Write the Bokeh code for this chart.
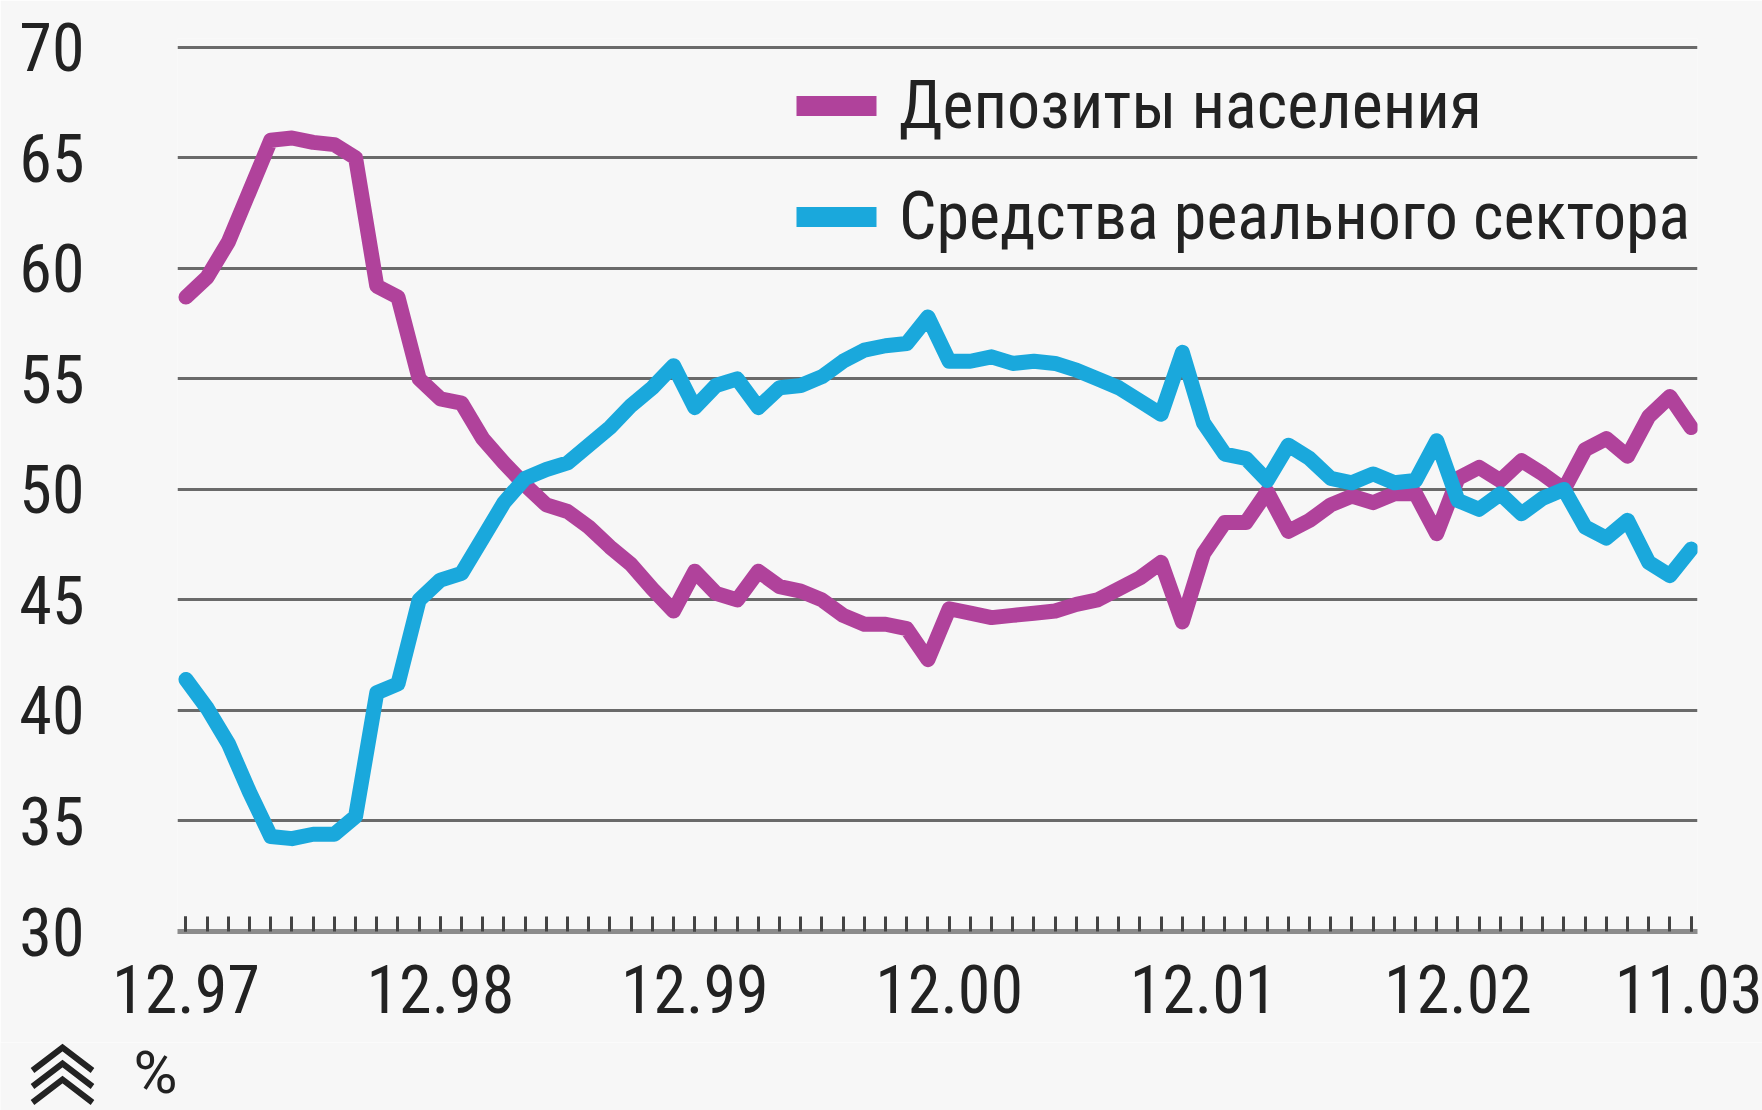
from bokeh.plotting import figure
from bokeh.layouts import column
from bokeh.models import Range1d, FixedTicker, Legend, LegendItem
from bokeh.core.properties import value
from bokeh.embed import file_html
from bokeh.resources import INLINE

# ---- data (monthly, 12.1997 .. 11.2003), % share ----
months = list(range(72))
deposits = [58.7, 59.6, 61.2, 63.5, 65.8, 65.9, 65.7, 65.6, 65.0, 59.2, 58.7, 55.0,
            54.1, 53.9, 52.3, 51.2, 50.2, 49.3, 49.0, 48.3, 47.4, 46.6, 45.5, 44.5,
            46.3, 45.3, 45.0, 46.3, 45.6, 45.4, 45.0, 44.3, 43.9, 43.9, 43.7, 42.3,
            44.6, 44.4, 44.2, 44.3, 44.4, 44.5, 44.8, 45.0, 45.5, 46.0, 46.7, 44.0,
            47.1, 48.5, 48.5, 49.9, 48.1, 48.6, 49.3, 49.7, 49.4, 49.8, 49.8, 48.0,
            50.5, 51.0, 50.4, 51.3, 50.7, 50.0, 51.8, 52.3, 51.5, 53.3, 54.2, 52.8]
real_sector = [41.4, 40.1, 38.5, 36.3, 34.3, 34.2, 34.4, 34.4, 35.2, 40.8, 41.2, 45.0,
               45.9, 46.2, 47.8, 49.4, 50.5, 50.9, 51.2, 52.0, 52.8, 53.8, 54.6, 55.6,
               53.7, 54.7, 55.0, 53.7, 54.6, 54.7, 55.1, 55.8, 56.3, 56.5, 56.6, 57.8,
               55.8, 55.8, 56.0, 55.7, 55.8, 55.7, 55.4, 55.0, 54.6, 54.0, 53.4, 56.2,
               53.0, 51.6, 51.4, 50.4, 52.0, 51.4, 50.5, 50.3, 50.7, 50.3, 50.4, 52.2,
               49.5, 49.1, 49.8, 48.9, 49.6, 50.0, 48.3, 47.8, 48.6, 46.7, 46.1, 47.3]
series_names = ["Депозиты населения", "Средства реального сектора"]
tick_positions = [0, 12, 24, 36, 48, 60, 71]
tick_labels = ["12.97", "12.98", "12.99", "12.00", "12.01", "12.02", "11.03"]
y_ticks = [30, 35, 40, 45, 50, 55, 60, 65, 70]
unit_label = "%"

# ---- style ----
BG = "#f7f7f7"
TXT = "#222222"
MAG = "#b0429b"
CYA = "#1aa8dc"
FONT = "'Liberation Sans Narrow', 'Arial Narrow', 'Roboto Condensed', 'DejaVu Sans Condensed', sans-serif"
W = 1762
MAIN_H = 1042
FOOT_H = 68

p = figure(width=W, height=MAIN_H,
           x_range=Range1d(-0.4, 71.3), y_range=Range1d(30, 70.4),
           output_backend="svg", toolbar_location=None,
           background_fill_color=BG, border_fill_color=BG,
           min_border_left=177, min_border_right=65,
           min_border_top=38, min_border_bottom=MAIN_H - 931)
p.outline_line_color = None

# x axis
xa = p.xaxis[0]
xa.ticker = FixedTicker(ticks=tick_positions, minor_ticks=months)
xa.major_label_overrides = {t: l for t, l in zip(tick_positions, tick_labels)}
xa.axis_line_width = 5
xa.axis_line_color = "#8c8c8c"
xa.major_tick_in = 15
xa.major_tick_out = 0
xa.minor_tick_in = 15
xa.minor_tick_out = 0
xa.major_tick_line_color = "#444444"
xa.minor_tick_line_color = "#444444"
xa.major_tick_line_width = 3
xa.minor_tick_line_width = 3
xa.major_label_text_font = FONT
xa.major_label_text_font_size = "66px"
xa.major_label_text_color = TXT
xa.major_label_standoff = 33

# y axis
ya = p.yaxis[0]
ya.ticker = FixedTicker(ticks=y_ticks)
ya.axis_line_color = None
ya.major_tick_line_color = None
ya.minor_tick_line_color = None
ya.major_label_text_font = FONT
ya.major_label_text_font_size = "66px"
ya.major_label_text_color = TXT
ya.major_label_standoff = 87

p.xgrid.grid_line_color = None
p.ygrid.ticker = FixedTicker(ticks=y_ticks)
p.ygrid.grid_line_color = "#6a6a6a"
p.ygrid.grid_line_width = 3

# lines
p.line(months, deposits, line_width=15, line_color=MAG, line_join="round", line_cap="round")
p.line(months, real_sector, line_width=15, line_color=CYA, line_join="round", line_cap="round")

# legend swatches (renderers with a single NaN row: nothing drawn in the plot)
nan = float("nan")
s1 = p.quad(left=[nan], right=[nan], top=[nan], bottom=[nan], fill_color=MAG, line_color=None)
s2 = p.quad(left=[nan], right=[nan], top=[nan], bottom=[nan], fill_color=CYA, line_color=None)
legend = Legend(items=[LegendItem(label=series_names[0], renderers=[s1]),
                       LegendItem(label=series_names[1], renderers=[s2])],
                location=(609, 676), glyph_width=100, glyph_height=25,
                label_standoff=13, spacing=34, padding=0, margin=0,
                border_line_color=None, background_fill_alpha=0,
                label_text_font=FONT, label_text_font_size="66px",
                label_text_color=TXT)
p.add_layout(legend)

# ---- footer strip: chevron mark and unit label (pixel coordinates, y up) ----
f = figure(width=W, height=FOOT_H, x_range=Range1d(0, W), y_range=Range1d(0, FOOT_H),
           output_backend="svg", toolbar_location=None,
           x_axis_location=None, y_axis_location=None,
           background_fill_color=BG, border_fill_color=BG,
           min_border_left=0, min_border_right=0, min_border_top=0, min_border_bottom=0)
f.outline_line_color = None
f.xgrid.grid_line_color = None
f.ygrid.grid_line_color = None
p.frame_align = False
f.frame_align = False
cx, half_w, drop = 62, 30, 23
apexes = [FOOT_H - 5 - 16 * k for k in range(3)]
f.multi_line(xs=[[cx - half_w, cx, cx + half_w] for _ in apexes],
             ys=[[a - drop, a, a - drop] for a in apexes],
             line_width=6, line_color=TXT, line_join="miter")
f.text(x=[133], y=[38], text=[unit_label], text_font=value("Roboto"),
       text_font_size="60px", text_color=TXT, text_baseline="middle", text_align="left")

layout = column(p, f, spacing=0)
open("out.html", "w").write(file_html(layout, INLINE))
